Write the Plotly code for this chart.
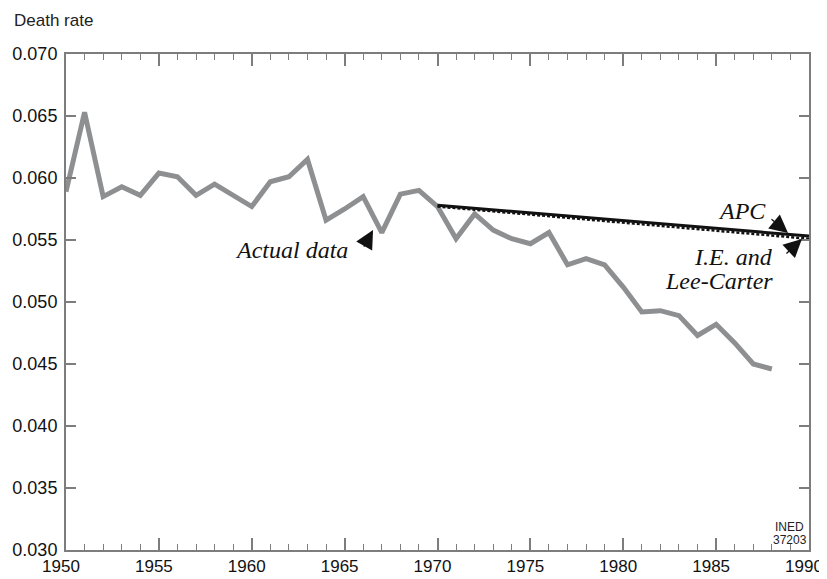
import plotly.graph_objects as go

years = list(range(1950, 1989))
actual = [0.0589, 0.0653, 0.0585, 0.0593, 0.0586, 0.0604, 0.0601, 0.0586, 0.0595, 0.0586,
          0.0577, 0.0597, 0.0601, 0.0615, 0.0566, 0.0575, 0.0585, 0.0556, 0.0587, 0.0590,
          0.0577, 0.0551, 0.0571, 0.0558, 0.0551, 0.0547, 0.0556, 0.0530, 0.0535, 0.0530,
          0.0512, 0.0492, 0.0493, 0.0489, 0.0473, 0.0482, 0.0467, 0.0450, 0.0446]

fc_years = [1970, 1990]
apc = [0.0578, 0.05532]
ie_lc = [0.0577, 0.0551]

x_ticks = [1950, 1955, 1960, 1965, 1970, 1975, 1980, 1985, 1990]
x_labels = ["1950", "1955", "1960", "1965", "1970", "1975", "1980", "1985", "1990"]
y_ticks = [0.030, 0.035, 0.040, 0.045, 0.050, 0.055, 0.060, 0.065, 0.070]

AX = "#7d7d7d"
fig = go.Figure()
fig.add_trace(go.Scatter(x=years, y=actual, mode="lines",
                         line=dict(color="#8e8f91", width=5), showlegend=False))
fig.add_trace(go.Scatter(x=fc_years, y=ie_lc, mode="lines",
                         line=dict(color="#111111", width=2.5, dash="3px,2px"), showlegend=False))
fig.add_trace(go.Scatter(x=fc_years, y=apc, mode="lines",
                         line=dict(color="#111111", width=3), showlegend=False))

serif = dict(family="Liberation Serif", size=24, color="#111111")
arrow = dict(showarrow=True, text="", arrowhead=2, arrowsize=2.8, arrowwidth=1.3,
             arrowcolor="#111111", standoff=0)

fig.add_annotation(x=1966.53, y=0.0558, ax=-10, ay=18, **arrow)
fig.add_annotation(x=1965.29, y=0.05419, text="<i>Actual data</i>", showarrow=False,
                   xanchor="right", yanchor="middle", font=serif)

fig.add_annotation(x=1988.87, y=0.05556, ax=-18, ay=-15, **arrow)
fig.add_annotation(x=1987.79, y=0.05734, text="<i>APC</i>", showarrow=False,
                   xanchor="right", yanchor="middle", font=serif)

fig.add_annotation(x=1989.62, y=0.05508, ax=-17, ay=16, **arrow)
fig.add_annotation(x=1988.17, y=0.05359, text="<i>I.E. and</i>", showarrow=False,
                   xanchor="right", yanchor="middle", font=serif)
fig.add_annotation(x=1988.17, y=0.05173, text="<i>Lee-Carter</i>", showarrow=False,
                   xanchor="right", yanchor="middle", font=serif)

small = dict(family="Liberation Sans Narrow, Liberation Sans", size=12, color="#222")
fig.add_annotation(x=1988.95, y=0.03189, text="INED", showarrow=False,
                   xanchor="center", yanchor="middle", font=small)
fig.add_annotation(x=1988.95, y=0.03077, text="37203", showarrow=False,
                   xanchor="center", yanchor="middle", font=small)

fig.add_annotation(xref="paper", yref="paper", x=-0.0731, y=1.0675, text="Death rate",
                   showarrow=False, xanchor="left", yanchor="middle",
                   font=dict(family="Liberation Sans", size=17, color="#222"))

fig.update_xaxes(range=[1950, 1990], tickvals=x_ticks, ticktext=x_labels,
                 ticks="inside", ticklen=12, tickwidth=1.5, tickcolor=AX,
                 minor=dict(dtick=1, ticks="inside", ticklen=6, tickwidth=1.2, tickcolor=AX),
                 showline=True, linecolor=AX, linewidth=2, mirror="ticks",
                 showgrid=False, zeroline=False, automargin=False, ticklabelstandoff=0,
                 ticklabelshift=-5, ticklabeloverflow="allow",
                 tickfont=dict(family="Liberation Sans", size=17, color="#111"))
fig.update_yaxes(range=[0.030, 0.070], tickvals=y_ticks, tickformat=".3f",
                 ticks="inside", ticklen=10, tickwidth=1.5, tickcolor=AX,
                 showline=True, linecolor=AX, linewidth=2, mirror="ticks",
                 showgrid=False, zeroline=False, automargin=False, ticklabelstandoff=3,
                 tickfont=dict(family="Liberation Sans", size=18, color="#111"))

fig.update_layout(width=827, height=571, margin=dict(l=58, r=26, t=46, b=29),
                  plot_bgcolor="white", paper_bgcolor="white")
fig.write_html("out.html")
